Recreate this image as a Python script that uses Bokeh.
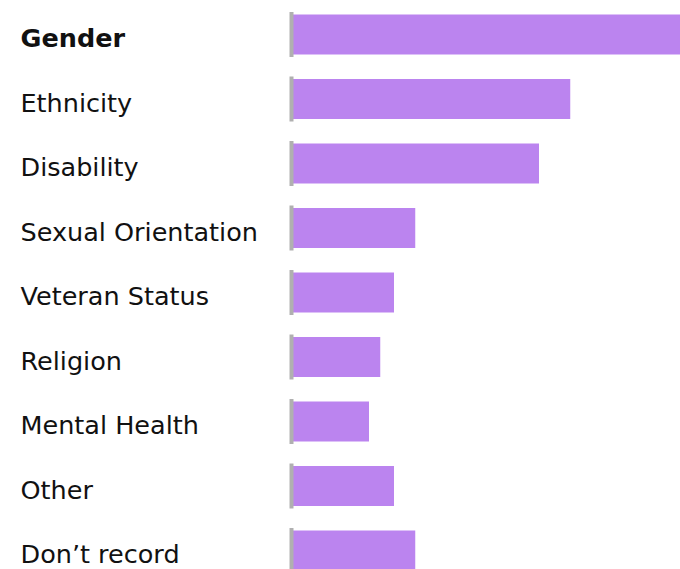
from bokeh.plotting import figure
from bokeh.models import ColumnDataSource, Range1d
from bokeh.core.properties import value
from bokeh.embed import file_html
from bokeh.resources import INLINE

categories = ["Gender", "Ethnicity", "Disability", "Sexual Orientation",
              "Veteran Status", "Religion", "Mental Health", "Other", "Don\u2019t record"]
values = [31.5, 22.3, 19.8, 9.9, 8.2, 7.1, 6.2, 8.2, 9.9]
font_styles = ["bold"] + ["normal"] * 8

n = len(categories)
ypos = [n - 1 - i for i in range(n)]

src = ColumnDataSource(dict(cat=categories, val=values, y=ypos, style=font_styles,
                            zero=[0] * n))

W, H = 680, 569
scale = 12.5
x0_px = 291
pitch = 64.5
top_px = 34
bottom_px = 34 + (n - 1) * pitch

p = figure(width=W, height=H, output_backend="svg", toolbar_location=None,
           x_range=Range1d(-x0_px / scale, (W - x0_px) / scale),
           y_range=Range1d(-(H - bottom_px) / pitch, (n - 1) + top_px / pitch),
           min_border=0, min_border_left=0, min_border_right=0,
           min_border_top=0, min_border_bottom=0)
p.axis.visible = False
p.grid.visible = False
p.outline_line_color = None
p.background_fill_color = "white"
p.border_fill_color = "white"

p.hbar(y="y", left="zero", right="val", height=40 / pitch, source=src,
       fill_color="#bb84ef", line_color=None)
p.rect(x="zero", y="y", width=4, width_units="screen", height=45 / pitch,
       source=src, fill_color="#b0b0b0", line_color=None)
p.text(x="zero", y="y", text="cat", source=src, x_offset=-271, y_offset=3.5,
       text_font=value("DejaVu Sans"), text_font_size="25.5px", text_font_style="style",
       text_baseline="alphabetic", text_align="left", text_color="#111111")

open("out.html", "w").write(file_html(p, INLINE))
